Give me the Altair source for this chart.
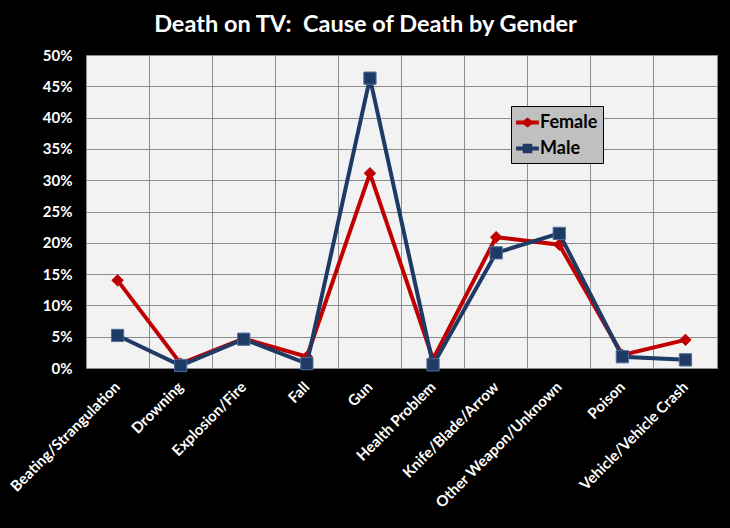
import altair as alt
import pandas as pd
import jinja2

categories = ["Beating/Strangulation", "Drowning", "Explosion/Fire", "Fall", "Gun",
              "Health Problem", "Knife/Blade/Arrow", "Other Weapon/Unknown", "Poison",
              "Vehicle/Vehicle Crash"]
female = [0.140, 0.007, 0.047, 0.018, 0.311, 0.014, 0.209, 0.197, 0.021, 0.045]
male = [0.052, 0.004, 0.046, 0.007, 0.463, 0.005, 0.184, 0.215, 0.018, 0.013]
y_ticks = [0, 0.05, 0.10, 0.15, 0.20, 0.25, 0.30, 0.35, 0.40, 0.45, 0.50]

rows = []
for c, f, m in zip(categories, female, male):
    rows.append({"cause": c, "gender": "Female", "share": f})
    rows.append({"cause": c, "gender": "Male", "share": m})
df = pd.DataFrame(rows)

FONT = "Lato"
color_scale = alt.Scale(domain=["Female", "Male"], range=["#c00000", "#1f3a64"])
# legend symbols: a short line with the marker on it
female_sym = "M-1,-0.17L1,-0.17L1,0.17L-1,0.17Z M0,-0.44L0.58,0L0,0.44L-0.58,0Z"
male_sym = "M-1,-0.17L1,-0.17L1,0.17L-1,0.17Z M-0.42,-0.42L0.42,-0.42L0.42,0.42L-0.42,0.42Z"
legend_shape_scale = alt.Scale(domain=["Female", "Male"], range=[female_sym, male_sym])
legend = alt.Legend(title=None, orient="none", legendX=425, legendY=51,
                    fillColor="#c0c0c0", strokeColor="black",
                    padding=5, labelFont=FONT, labelFontSize=18, labelOffset=1,
                    labelFontWeight="bold", labelColor="black",
                    symbolSize=520, rowPadding=5, symbolStrokeWidth=0)

x_enc = alt.X("cause:N", sort=categories, title=None,
              scale=alt.Scale(type="band", paddingInner=0, paddingOuter=0),
              axis=alt.Axis(bandPosition=0, grid=True, gridColor="#8c8c8c", gridWidth=1,
                            ticks=False, domain=False, labelAngle=-45, labelAlign="right",
                            labelBaseline="middle", labelPadding=16,
                            labelColor="white", labelFont=FONT, labelFontSize=15,
                            labelFontWeight="bold", labelOverlap=False, labelLimit=300))
y_enc = alt.Y("share:Q", title=None,
              scale=alt.Scale(domain=[0, 0.5], nice=False, zero=True),
              axis=alt.Axis(values=y_ticks, format=".0%", grid=True, gridColor="#8c8c8c",
                            gridWidth=1, ticks=False, domain=False, labelColor="white",
                            labelFont=FONT, labelFontSize=15, labelFontWeight="bold",
                            labelPadding=14))

base = alt.Chart(df).encode(x=x_enc, y=y_enc)

layers = []
for g, shape, size, stroke in [("Female", "diamond", 130, "#c00000"),
                               ("Male", "square", 150, "#4d6e9c")]:
    sub = base.transform_filter(alt.datum.gender == g)
    line = sub.mark_line(strokeWidth=4).encode(
        color=alt.Color("gender:N", scale=color_scale, legend=legend))
    pts = sub.mark_point(filled=True, opacity=1, shape=shape, size=size, stroke=stroke,
                         strokeWidth=1).encode(
        color=alt.Color("gender:N", scale=color_scale, legend=legend))
    layers += [line, pts]

# legend-only layer (draws no marks)
legend_layer = base.transform_filter("false").mark_point(filled=True).encode(
    color=alt.Color("gender:N", scale=color_scale, legend=legend),
    shape=alt.Shape("gender:N", scale=legend_shape_scale, legend=legend))
layers.append(legend_layer)

chart = alt.layer(*layers).properties(
    width=631, height=313,
    autosize=alt.AutoSizeParams(type="none"),
    padding={"left": 78, "top": 47, "right": 5, "bottom": 152},
    background="black",
    title=alt.TitleParams("Death on TV:\u00a0 Cause of Death by Gender", color="white",
                          font=FONT, fontSize=23.5, fontWeight="bold", anchor="middle",
                          dx=-36, offset=12),
).configure_view(fill="#f2f2f2", stroke="#8c8c8c", strokeWidth=1)

TEMPLATE = jinja2.Template("""<!DOCTYPE html>
<html>
<head>
<style>html, body { background: #000; }</style>
<script type="text/javascript" src="{{ base_url }}/vega@{{ vega_version }}"></script>
<script type="text/javascript" src="{{ base_url }}/vega-lite@{{ vegalite_version }}"></script>
<script type="text/javascript" src="{{ base_url }}/vega-embed@{{ vegaembed_version }}"></script>
</head>
<body>
<div id="{{ output_div }}"></div>
<script type="text/javascript">
  vegaEmbed("#{{ output_div }}", {{ spec }}, {{ embed_options }}).catch(console.error);
</script>
</body>
</html>
""")

chart.save("out.html", embed_options={"renderer": "svg", "actions": False}, template=TEMPLATE)
